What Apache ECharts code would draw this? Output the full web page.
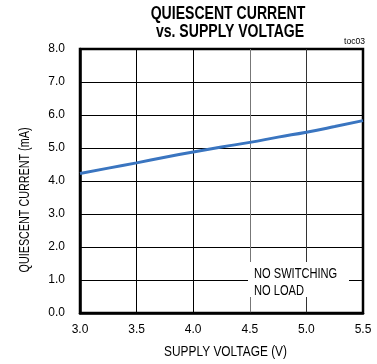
<!DOCTYPE html>
<html>
<head>
<meta charset="utf-8">
<script src="https://cdn.jsdelivr.net/npm/echarts@6/dist/echarts.min.js"></script>
<style>
html,body{margin:0;padding:0;background:#fff;}
#chart{width:377px;height:364px;}
</style>
</head>
<body>
<div id="chart"></div>
<script>
// Supply voltage (V) and quiescent current (mA)
const supplyVoltage = [3.0, 3.25, 3.5, 3.75, 4.0, 4.25, 4.5, 4.75, 5.0, 5.25, 5.5];
const quiescentCurrent = [4.23, 4.39, 4.55, 4.72, 4.88, 5.03, 5.17, 5.33, 5.48, 5.65, 5.83];
const xTicks = ['3.0', '3.5', '4.0', '4.5', '5.0', '5.5'];
const yTicks = ['0.0', '1.0', '2.0', '3.0', '4.0', '5.0', '6.0', '7.0', '8.0'];

const FONT = '"Liberation Sans", Arial, Helvetica, sans-serif';

// Condensed-looking text drawn by horizontally scaling a regular face
function narrowText(text, x, y, size, scale, opts) {
  opts = opts || {};
  return {
    type: 'text', x: x, y: y, scaleX: scale, rotation: opts.rotation || 0, z: 100,
    style: {
      text: text, fill: '#000',
      font: (opts.bold ? 'bold ' : '') + size + 'px ' + FONT,
      align: opts.align || 'center', verticalAlign: 'middle'
    }
  };
}

const chart = echarts.init(document.getElementById('chart'), null, {renderer: 'canvas'});
chart.setOption({
  animation: false,
  backgroundColor: '#fff',
  graphic: [
    narrowText('QUIESCENT CURRENT', 228, 14, 18.5, 0.76, {bold: true}),
    narrowText('vs. SUPPLY VOLTAGE', 230, 32, 18.5, 0.76, {bold: true}),
    narrowText('toc03', 365, 42, 9, 0.95, {align: 'right'}),
    // note box over the lower-right grid
    {type: 'rect', z: 99, shape: {x: 248, y: 262, width: 101, height: 35}, style: {fill: '#fff'}},
    narrowText('NO SWITCHING', 254, 274, 15, 0.74, {align: 'left'}),
    narrowText('NO LOAD', 254, 291, 15, 0.74, {align: 'left'}),
    // axis titles
    narrowText('SUPPLY VOLTAGE (V)', 225.5, 352, 14, 0.85),
    {type: 'text', x: 25, y: 200, rotation: Math.PI / 2, scaleX: 0.77, z: 100,
     style: {text: 'QUIESCENT CURRENT (mA)', fill: '#000', font: '14px ' + FONT,
             align: 'center', verticalAlign: 'middle'}}
  ],
  grid: {left: 80, right: 14, top: 49, bottom: 51, show: true, borderColor: '#000', borderWidth: 2.5},
  xAxis: {
    type: 'value', min: 3.0, max: 5.5, interval: 0.5,
    axisLine: {show: true, lineStyle: {color: '#000', width: 2.5}},
    axisTick: {show: false},
    axisLabel: {fontFamily: FONT, fontSize: 12, color: '#000', margin: 11,
      formatter: v => xTicks[Math.round((v - 3.0) / 0.5)]},
    splitLine: {show: true, lineStyle: {color: ['#000', '#000', '#000', '#777', '#333', '#000'], width: 1}}
  },
  yAxis: {
    type: 'value', min: 0, max: 8, interval: 1,
    axisLine: {show: true, lineStyle: {color: '#000', width: 2.5}},
    axisTick: {show: false},
    axisLabel: {fontFamily: FONT, fontSize: 12, color: '#000', margin: 15,
      formatter: v => yTicks[Math.round(v)]},
    splitLine: {show: true, lineStyle: {color: '#000', width: 1}}
  },
  series: [{
    type: 'line',
    data: supplyVoltage.map((v, i) => [v, quiescentCurrent[i]]),
    showSymbol: false,
    smooth: true,
    lineStyle: {color: '#3a75c0', width: 3},
    z: 3
  }]
});
</script>
</body>
</html>
